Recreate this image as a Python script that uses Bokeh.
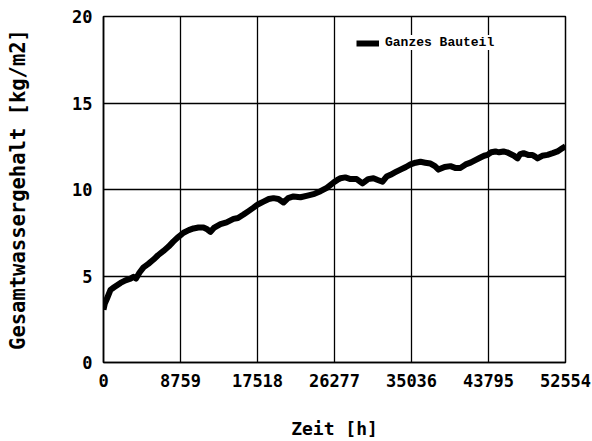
from bokeh.plotting import figure
from bokeh.models import FixedTicker, Legend, LegendItem, Range1d
from bokeh.embed import file_html
from bokeh.resources import INLINE

# --- data ---
x_ticks = [0, 8759, 17518, 26277, 35036, 43795, 52554]
y_ticks = [0, 5, 10, 15, 20]

zeit_h = [0, 150, 400, 796, 1200, 1934, 2500, 3071, 3413, 3700, 4100, 4550, 5100, 5688,
          6200, 6825, 7400, 7963, 8500, 9100, 9700, 10238, 10800, 11375, 11800, 12171,
          12600, 13309, 14000, 14788, 15300, 15925, 16500, 17063, 17600, 18200, 18800,
          19338, 19900, 20475, 21000, 21613, 22400, 23205, 24000, 24684, 25400, 26163,
          26600, 26959, 27500, 28096, 28800, 29461, 30100, 30713, 31200, 31736, 32200,
          32646, 33200, 33784, 34400, 34921, 35500, 36059, 36600, 37196, 37700, 38106,
          38800, 39471, 40000, 40609, 41200, 41746, 42300, 42884, 43300, 43680, 44100,
          44590, 45000, 45500, 45900, 46296, 46700, 47093, 47400, 47775, 48300, 48799,
          49100, 49368, 49900, 50505, 51100, 51643, 52100, 52554]
wassergehalt = [3.05, 3.4, 3.7, 4.2, 4.35, 4.6, 4.75, 4.85, 4.95, 4.85, 5.2, 5.5, 5.7, 5.95,
                6.2, 6.45, 6.7, 7.0, 7.25, 7.5, 7.65, 7.75, 7.8, 7.8, 7.7, 7.55,
                7.8, 8.0, 8.1, 8.3, 8.35, 8.55, 8.75, 8.95, 9.15, 9.3, 9.45,
                9.5, 9.45, 9.25, 9.5, 9.6, 9.55, 9.65, 9.75, 9.9, 10.1, 10.4,
                10.55, 10.65, 10.7, 10.6, 10.6, 10.35, 10.6, 10.65, 10.55, 10.45, 10.75,
                10.85, 11.0, 11.15, 11.3, 11.45, 11.55, 11.6, 11.55, 11.5, 11.35, 11.15,
                11.3, 11.35, 11.25, 11.25, 11.45, 11.55, 11.7, 11.85, 11.95, 12.0, 12.15,
                12.2, 12.15, 12.2, 12.15, 12.05, 11.95, 11.8, 12.05, 12.1, 12.0, 12.0,
                11.9, 11.8, 11.95, 12.0, 12.1, 12.2, 12.35, 12.5]
series_name = "Ganzes Bauteil"
x_label = "Zeit [h]"
y_label = "Gesamtwassergehalt [kg/m2]"

FONT = "DejaVu Sans Mono"

p = figure(width=592, height=441, output_backend="svg", toolbar_location=None,
           x_range=Range1d(0, 52554), y_range=Range1d(0, 20),
           min_border_left=103, min_border_right=27, min_border_top=16, min_border_bottom=77)
p.background_fill_color = "white"
p.border_fill_color = "white"
p.outline_line_color = "black"
p.outline_line_width = 1.5

r = p.line(zeit_h, wassergehalt, line_color="black", line_width=6, line_join="round")

p.xaxis.ticker = FixedTicker(ticks=x_ticks)
p.yaxis.ticker = FixedTicker(ticks=y_ticks)
for ax in (p.xaxis[0], p.yaxis[0]):
    ax.major_tick_line_color = None
    ax.minor_tick_line_color = None
    ax.axis_line_color = "black"
    ax.axis_line_width = 1.5
    ax.major_label_text_font = FONT
    ax.major_label_text_font_style = "bold"
    ax.major_label_text_font_size = "17px"
    ax.major_label_text_color = "black"
    ax.axis_label_text_font = FONT
    ax.axis_label_text_font_style = "bold"
    ax.axis_label_text_color = "black"

p.xaxis.axis_label = x_label
p.yaxis.axis_label = y_label
p.xaxis.axis_label_text_font_size = "18px"
p.yaxis.axis_label_text_font_size = "20.5px"
p.xaxis.major_label_standoff = 5
p.yaxis.major_label_standoff = 5
p.xaxis.axis_label_standoff = 28
p.yaxis.axis_label_standoff = 39

p.grid.grid_line_color = "black"
p.grid.grid_line_width = 1.3
p.grid.grid_line_alpha = 1.0

legend = Legend(items=[LegendItem(label=series_name, renderers=[r])],
                location=(253, 312), border_line_color=None,
                background_fill_color="white", background_fill_alpha=1.0,
                label_text_font="Liberation Mono", label_text_font_style="bold",
                label_text_font_size="13px", label_text_color="black",
                glyph_width=23, glyph_height=14,
                label_standoff=6, padding=10, margin=0)
p.add_layout(legend, "center")

open("out.html", "w").write(file_html(p, INLINE))
